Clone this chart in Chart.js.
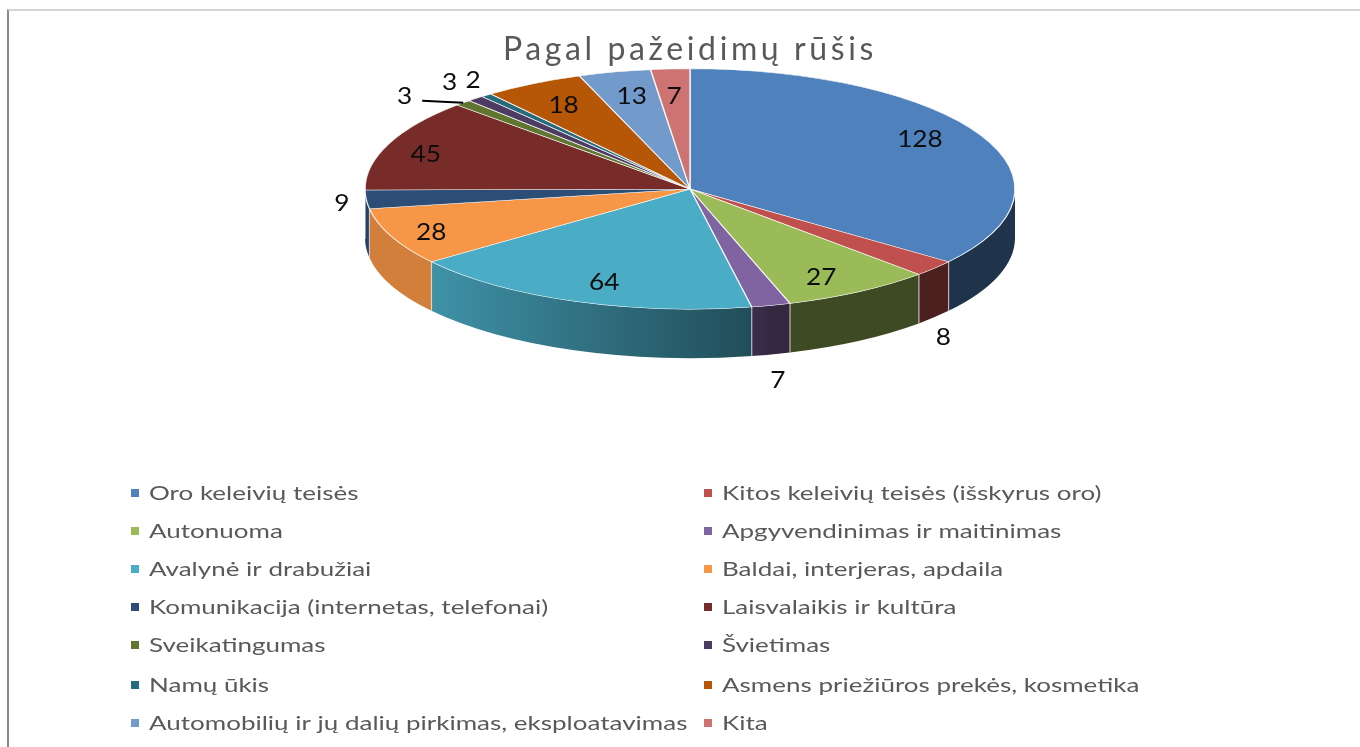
<!DOCTYPE html>
<html><head><meta charset="utf-8">
<script src="https://cdn.jsdelivr.net/npm/chart.js@4/dist/chart.umd.min.js"></script>
<style>html,body{margin:0;padding:0;background:#fff;overflow:hidden}
#w{position:relative;width:1360px;height:747px}
#w:before{content:"";position:absolute;left:7px;top:9px;right:0;bottom:0;border-left:2px solid #8a8a8a;border-top:2px solid #d4d4d4}
canvas{position:absolute;left:0;top:0;filter:blur(0.4px)}</style></head>
<body><div id="w"><canvas id="c" width="1360" height="747"></canvas></div>
<script>
const titleText = "Pagal pažeidimų rūšis";
const categories = ["Oro keleivių teisės","Kitos keleivių teisės (išskyrus oro)","Autonuoma","Apgyvendinimas ir maitinimas","Avalynė ir drabužiai","Baldai, interjeras, apdaila","Komunikacija (internetas, telefonai)","Laisvalaikis ir kultūra","Sveikatingumas","Švietimas","Namų ūkis","Asmens priežiūros prekės, kosmetika","Automobilių ir jų dalių pirkimas, eksploatavimas","Kita"];
const values = [128,8,27,7,64,28,9,45,3,3,2,18,13,7];
const colors = ["#4F81BD","#C0504D","#9BBB59","#8064A2","#4BACC6","#F79646","#2C4D75","#772C2A","#5F7530","#4D3B62","#276A7C","#B65708","#729ACA","#CD7371"];
const labelShift = [[-3,-7],[58,85],[-4,6],[23,98],[7,4],[-20,5],[-89,6],[-23,1],[-104,-24],[-69,-34],[-54,-33],[-1,1],[2,1],[0,4]];
const legendRows = [493,531,569,607,645,685,723];

const TILT = 0.37, DEPTH = 49, CY = 189;
const hex = c => [1,3,5].map(i => parseInt(c.substr(i,2),16));
const shade = (c,f) => { const [r,g,b] = hex(c); return `rgb(${r*f|0},${g*f|0},${b*f|0})`; };
const shadeAt = x => x <= 430 ? 0.85 : x >= 770 ? 0.4 : 0.85 - (x-430)/340*0.42;

function scaledText(ctx, text, x, y, align, sx) {
  ctx.save();
  ctx.translate(x, y); ctx.scale(sx, 1);
  ctx.textAlign = align; ctx.textBaseline = "middle";
  ctx.fillText(text, 0, 0);
  ctx.restore();
}

const pie3d = {
  id: "pie3d",
  beforeDraw(chart) { chart.ctx.letterSpacing = "3.6px"; },
  beforeDatasetsDraw(chart) {
    const ctx = chart.ctx; ctx.letterSpacing = "0px";
    const arcs = chart.getDatasetMeta(0).data;
    const cx = arcs[0].x, R = arcs[0].outerRadius, ry = R * TILT;
    ctx.save();
    arcs.forEach((a, i) => {
      let s = a.startAngle, e = a.endAngle;
      const norm = t => { while (t < -Math.PI/2) t += 2*Math.PI; return t; };
      s = norm(s); e = s + (a.endAngle - a.startAngle);
      const lo = Math.max(s, 0), hi = Math.min(e, Math.PI);
      if (hi <= lo) return;
      const x0 = cx + R*Math.cos(lo), x1 = cx + R*Math.cos(hi);
      const g = ctx.createLinearGradient(x1, 0, x0, 0);
      const n = 6;
      for (let k = 0; k <= n; k++) g.addColorStop(k/n, shade(colors[i], shadeAt(x1 + (x0-x1)*k/n)));
      ctx.beginPath();
      ctx.ellipse(cx, CY, R, ry, 0, lo, hi);
      ctx.ellipse(cx, CY + DEPTH, R, ry, 0, hi, lo, true);
      ctx.closePath();
      ctx.fillStyle = g; ctx.fill();
      ctx.strokeStyle = "rgba(255,255,255,0.45)"; ctx.lineWidth = 1.2;
      for (const t of [lo, hi]) {
        if (t === 0 || t === Math.PI) continue;
        const px = cx + R*Math.cos(t), py = CY + ry*Math.sin(t);
        ctx.beginPath(); ctx.moveTo(px, py); ctx.lineTo(px, py + DEPTH); ctx.stroke();
      }
    });
    ctx.restore();
    ctx.save();
    ctx.translate(0, CY); ctx.scale(1, TILT); ctx.translate(0, -arcs[0].y);
  },
  afterDatasetsDraw(chart) {
    const ctx = chart.ctx;
    ctx.restore();
    const arcs = chart.getDatasetMeta(0).data;
    const cx = arcs[0].x, R = arcs[0].outerRadius, ry = R * TILT;
    ctx.fillStyle = "#0d0d0d";
    ctx.font = '23px Lato';
    arcs.forEach((a, i) => {
      const m = (a.startAngle + a.endAngle)/2;
      const x = cx + 0.8*R*Math.cos(m) + labelShift[i][0];
      const y = CY + 0.8*ry*Math.sin(m) + labelShift[i][1];
      scaledText(ctx, String(values[i]), x, y, "center", 1.14);
    });
    const a = arcs[8], m = (a.startAngle + a.endAngle)/2;
    const ex = cx + R*Math.cos(m), ey = CY + ry*Math.sin(m);
    ctx.strokeStyle = "#000"; ctx.lineWidth = 2;
    ctx.beginPath(); ctx.moveTo(ex - 41, ey - 2); ctx.lineTo(ex, ey); ctx.stroke();
    ctx.font = '20px Lato';
    categories.forEach((name, i) => {
      const col = i % 2, row = legendRows[(i - col)/2];
      const bx = col ? 704 : 131, tx = col ? 722 : 149;
      ctx.fillStyle = colors[i];
      ctx.fillRect(bx, row - 4, 8, 8);
      ctx.fillStyle = "#595959";
      scaledText(ctx, name, tx, row + 1, "left", 1.3);
    });
  }
};

new Chart(document.getElementById("c"), {
  type: "pie",
  data: { labels: categories, datasets: [{ data: values, backgroundColor: colors, borderColor: "rgba(255,255,255,0.85)", borderWidth: 1.4, radius: 325, clip: false }] },
  options: {
    responsive: false, animation: false,
    layout: { padding: { left: 20, right: 0, top: 0, bottom: 0 } },
    plugins: {
      legend: { display: false }, tooltip: { enabled: false },
      title: { display: true, text: titleText, color: "#595959", font: { family: "Lato", size: 32, weight: "normal" }, padding: { top: 30, bottom: 0 } }
    }
  },
  plugins: [pie3d]
});
</script></body></html>
